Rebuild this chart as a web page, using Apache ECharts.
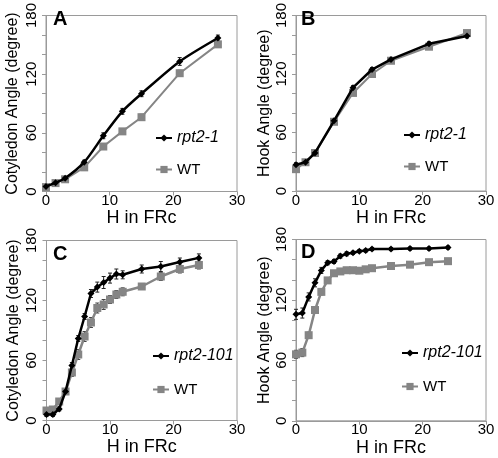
<!DOCTYPE html>
<html><head><meta charset="utf-8">
<script src="https://cdn.jsdelivr.net/npm/echarts@6/dist/echarts.min.js"></script>
<style>html,body{margin:0;padding:0;background:#fff}#c{width:498px;height:458px}</style>
</head><body><div id="c"></div><script>
// Panel A/B: hours in FRc
const xAB = [0, 1.5, 3, 6, 9, 12, 15, 21, 27];
const aMut = [5, 9, 13.5, 30, 57, 82, 100, 133, 157];
const aMutErr = [1, 1, 1.5, 2, 3, 3, 3, 4, 3];
const aWT = [4.5, 8.6, 12.5, 24.7, 46, 61.5, 76, 121, 150.5];
const aWTErr = [1.5, 1.5, 1.5, 2, 2, 2, 3, 3, 3];
const bMut = [27, 29.5, 39, 72, 106, 124.6, 135, 151, 159];
const bMutErr = [2, 1.5, 1.5, 2, 2, 2, 2, 2, 2];
const bWT = [22.4, 29.5, 39, 71, 100.6, 120, 133.6, 148, 162];
const bWTErr = [2, 1.5, 1.5, 2, 2, 2, 2, 2, 2];
// Panel C/D
const xCD = [0, 1, 2, 3, 4, 5, 6, 7, 8, 9, 10, 11, 12, 15, 18, 21, 24];
const cMut = [6, 6, 11.6, 29, 55, 82, 104, 127, 133.4, 138, 142.4, 146.5, 145.7, 151.5, 154, 158.5, 162.6];
const cMutErr = [2, 2, 2, 2, 3, 3, 3, 4, 5, 6, 5, 5, 4, 4, 5, 4, 4];
const cWT = [10, 11, 19, 29, 48, 66, 84, 98, 112.5, 116, 121, 126, 128.7, 134, 144, 151.5, 155.5];
const cWTErr = [3, 3, 3, 3, 4, 5, 5, 5, 5, 5, 4, 4, 4, 3, 4, 4, 4];
const dMut = [105.7, 107, 123, 137, 149.3, 156.9, 158.2, 163.5, 165.8, 166.8, 168.4, 169, 170.5, 170.5, 171, 171, 172];
const dMutErr = [5, 5, 4, 4, 3, 2, 2, 2, 2, 1.5, 1.5, 1.5, 1.5, 1.5, 1.5, 1.5, 1.5];
const dWT = [66, 67.7, 85, 110, 128, 139.4, 146.5, 148.3, 149.5, 149.5, 149, 150.4, 151.5, 153.7, 155, 157.5, 158.5];
const dWTErr = [4, 4, 3, 3, 3, 2, 2, 1.5, 1.5, 1.5, 1.5, 1.5, 1.5, 1.5, 1.5, 1.5, 1.5];

const yTicks = [0, 60, 120, 180];
const panels = [
  {letter: 'A', x: xAB, mut: aMut, mutErr: aMutErr, wt: aWT, wtErr: aWTErr, mutName: 'rpt2-1', yName: 'Cotyledon Angle (degree)'},
  {letter: 'B', x: xAB, mut: bMut, mutErr: bMutErr, wt: bWT, wtErr: bWTErr, mutName: 'rpt2-1', yName: 'Hook Angle (degree)'},
  {letter: 'C', x: xCD, mut: cMut, mutErr: cMutErr, wt: cWT, wtErr: cWTErr, mutName: 'rpt2-101', yName: 'Cotyledon Angle (degree)'},
  {letter: 'D', x: xCD, mut: dMut, mutErr: dMutErr, wt: dWT, wtErr: dWTErr, mutName: 'rpt2-101', yName: 'Hook Angle (degree)'}
];

const grids = [
  {left: 46, top: 3.5, width: 191, height: 188},
  {left: 296, top: 5.5, width: 190, height: 185.5},
  {left: 46.5, top: 240.5, width: 190.5, height: 180},
  {left: 296, top: 239.5, width: 190, height: 181.3}
];
const letterPos = [[53, 9], [301, 9], [53, 244], [301, 242]];
const legendPos = [[155, 130], [403, 127], [152, 348], [401, 345]];
const legendGaps = [16, 16, 18, 18];
const nameGaps = [25, 23, 25, 23];
const smoothMut = [0.25, 0, 0, 0];

const FONT = 'Liberation Sans, Arial, sans-serif';
const AX = '#9a9a9a';
const BLACK = '#000000';
const GRAY = '#858585';

const option = {
  animation: false,
  textStyle: {fontFamily: FONT},
  grid: grids.map(g => Object.assign({show: true, borderColor: AX, borderWidth: 1, backgroundColor: 'transparent'}, g)),
  title: panels.map((p, i) => ({text: p.letter, left: letterPos[i][0], top: letterPos[i][1], padding: 0,
    textStyle: {fontSize: 20, fontWeight: 'bold', color: '#000', fontFamily: FONT}})),
  legend: panels.map((p, i) => ({
    orient: 'vertical', left: legendPos[i][0], top: legendPos[i][1],
    data: [p.mutName + ' ', 'WT' + ' '.repeat(i + 1)],
    itemWidth: 16, itemHeight: 9, itemGap: legendGaps[i], padding: 0,
    formatter: n => n.trim() === 'WT' ? '{n|WT}' : '{i|' + n.trim() + '}',
    textStyle: {fontSize: 16, color: '#000', fontFamily: FONT,
      rich: {i: {fontStyle: 'italic', fontSize: 16, fontFamily: FONT}, n: {fontSize: 15, fontFamily: FONT}}}
  })),
  xAxis: panels.map((p, i) => ({
    type: 'value', gridIndex: i, min: 0, max: 30, interval: 10,
    name: 'H in FRc', nameLocation: 'middle', nameGap: 13,
    nameTextStyle: {fontSize: 18, color: '#000', fontFamily: FONT, verticalAlign: 'top'},
    axisLine: {show: true, lineStyle: {color: AX, width: 1}},
    axisTick: {show: true, inside: false, length: 4, lineStyle: {color: AX}},
    axisLabel: {fontSize: 15, color: '#000', margin: 2, fontFamily: FONT},
    splitLine: {show: false}
  })),
  yAxis: panels.map((p, i) => ({
    type: 'value', gridIndex: i, min: 0, max: 180, interval: 20,
    name: p.yName, nameLocation: 'middle', nameRotate: 90, nameGap: nameGaps[i],
    nameTextStyle: {fontSize: 16, color: '#000', fontFamily: FONT},
    axisLine: {show: true, lineStyle: {color: AX, width: 1}},
    axisTick: {show: true, inside: false, length: 4, lineStyle: {color: AX}},
    axisLabel: {fontSize: 15, color: '#000', rotate: 90, margin: 7, fontFamily: FONT,
      formatter: v => yTicks.includes(v) ? String(v) : ''},
    splitLine: {show: false}
  })),
  series: []
};

function errSeries(i, xs, ys, es, color) {
  return {
    type: 'custom', xAxisIndex: i, yAxisIndex: i, z: 1, silent: true,
    data: xs.map((x, k) => [x, ys[k] - es[k], ys[k] + es[k]]),
    renderItem: (params, api) => {
      const lo = api.coord([api.value(0), api.value(1)]);
      const hi = api.coord([api.value(0), api.value(2)]);
      const w = 2;
      return {type: 'group', children: [
        {type: 'line', shape: {x1: lo[0], y1: lo[1], x2: hi[0], y2: hi[1]}, style: {stroke: color, lineWidth: 1}},
        {type: 'line', shape: {x1: lo[0] - w, y1: lo[1], x2: lo[0] + w, y2: lo[1]}, style: {stroke: color, lineWidth: 1}},
        {type: 'line', shape: {x1: hi[0] - w, y1: hi[1], x2: hi[0] + w, y2: hi[1]}, style: {stroke: color, lineWidth: 1}}
      ]};
    }
  };
}

panels.forEach((p, i) => {
  option.series.push(errSeries(i, p.x, p.wt, p.wtErr, '#444'));
  option.series.push(errSeries(i, p.x, p.mut, p.mutErr, '#222'));
  option.series.push({
    name: 'WT' + ' '.repeat(i + 1), type: 'line', xAxisIndex: i, yAxisIndex: i, z: 3,
    data: p.x.map((x, k) => [x, p.wt[k]]),
    symbol: 'rect', symbolSize: 8, showSymbol: true,
    lineStyle: {color: GRAY, width: i < 2 ? 2 : 2.5}, itemStyle: {color: GRAY}
  });
  option.series.push({
    name: p.mutName + ' ', type: 'line', xAxisIndex: i, yAxisIndex: i, z: 4,
    data: p.x.map((x, k) => [x, p.mut[k]]), smooth: smoothMut[i],
    symbol: 'diamond', symbolSize: 7, showSymbol: true,
    lineStyle: {color: BLACK, width: 2.5}, itemStyle: {color: BLACK}
  });
});

const chart = echarts.init(document.getElementById('c'), null, {renderer: 'canvas'});
chart.setOption(option);
</script></body></html>
